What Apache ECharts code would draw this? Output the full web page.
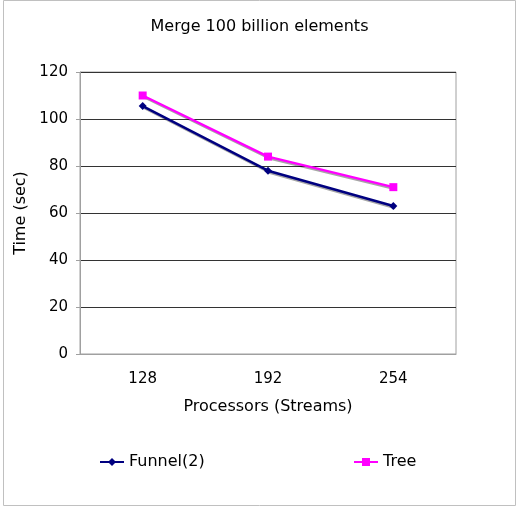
<!DOCTYPE html>
<html>
<head>
<meta charset="utf-8">
<script src="https://cdn.jsdelivr.net/npm/echarts@6/dist/echarts.min.js"></script>
<style>
  html, body { margin: 0; padding: 0; background: #fff; }
  #chart { width: 519px; height: 508px; }
</style>
</head>
<body>
<div id="chart"></div>
<script>
const processors = ['128', '192', '254'];
const funnelTimes = [105.5, 78, 63];
const treeTimes = [110, 84, 71];
const yTicks = [0, 20, 40, 60, 80, 100, 120];

const FONT = '"DejaVu Sans", Verdana, sans-serif';
const chart = echarts.init(document.getElementById('chart'), null, { renderer: 'canvas' });

const lineShadow = { shadowColor: 'rgba(0,0,0,0.35)', shadowOffsetX: 2, shadowOffsetY: 2, shadowBlur: 0 };

chart.setOption({
  backgroundColor: '#fff',
  animation: false,
  title: {
    text: 'Merge 100 billion elements',
    left: 'center',
    top: 14,
    textStyle: { fontFamily: FONT, fontSize: 16, fontWeight: 'normal', color: '#000' }
  },
  graphic: [{
    type: 'rect',
    shape: { x: 3.5, y: 0.5, width: 512, height: 505 },
    style: { fill: 'none', stroke: '#c0c0c0', lineWidth: 1 },
    silent: true
  }],
  legend: [{
    data: ['Funnel(2)'],
    left: 94, top: 449,
    itemWidth: 24, itemHeight: 10, itemGap: 4,
    textStyle: { fontFamily: FONT, fontSize: 16, color: '#000' }
  }, {
    data: ['Tree'],
    left: 348, top: 449,
    itemWidth: 24, itemHeight: 10, itemGap: 4,
    textStyle: { fontFamily: FONT, fontSize: 16, color: '#000' }
  }],
  grid: {
    left: 80, right: 63, top: 72, bottom: 154,
    show: true, borderColor: '#a0a0a0', borderWidth: 1, backgroundColor: 'transparent'
  },
  xAxis: {
    type: 'category',
    data: processors,
    boundaryGap: true,
    name: 'Processors (Streams)',
    nameLocation: 'middle',
    nameGap: 45,
    nameTextStyle: { fontFamily: FONT, fontSize: 16, color: '#000' },
    axisLine: { lineStyle: { color: '#a0a0a0', width: 1 } },
    axisTick: { show: false },
    axisLabel: { fontFamily: FONT, fontSize: 15, color: '#000', margin: 18 }
  },
  yAxis: {
    type: 'value',
    min: yTicks[0],
    max: yTicks[yTicks.length - 1],
    interval: 20,
    name: 'Time (sec)',
    nameLocation: 'middle',
    nameGap: 50,
    nameTextStyle: { fontFamily: FONT, fontSize: 16, color: '#000' },
    axisLine: { show: true, lineStyle: { color: '#a0a0a0', width: 1 } },
    axisTick: { show: true, length: 4, lineStyle: { color: '#a0a0a0' } },
    axisLabel: { fontFamily: FONT, fontSize: 15, color: '#000', margin: 12 },
    splitLine: { show: true, lineStyle: { color: '#333', width: 1 } }
  },
  series: [{
    name: 'Funnel(2)',
    type: 'line',
    data: funnelTimes,
    symbol: 'diamond',
    symbolSize: 8,
    itemStyle: { color: '#000080' },
    lineStyle: Object.assign({ color: '#000080', width: 2.5 }, lineShadow)
  }, {
    name: 'Tree',
    type: 'line',
    data: treeTimes,
    symbol: 'rect',
    symbolSize: 8,
    itemStyle: { color: '#ff00ff' },
    lineStyle: Object.assign({ color: '#ff00ff', width: 2.5 }, lineShadow)
  }]
});
</script>
</body>
</html>
